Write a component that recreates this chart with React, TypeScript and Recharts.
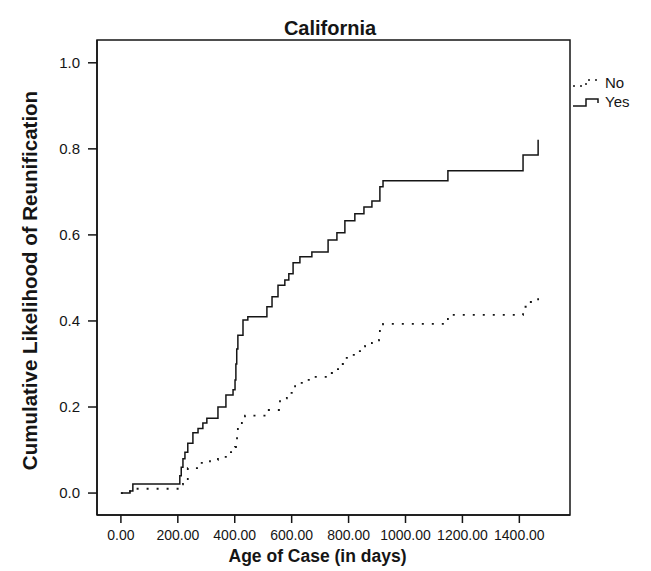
import { LineChart, Line, XAxis, YAxis, Label, ReferenceArea } from 'recharts'

// Cumulative likelihood of reunification, California
const yesDays = [0, 32, 42, 207, 212, 218, 225, 235, 253, 271, 288, 302, 341, 369, 394, 401, 404, 407, 411, 429, 446, 513, 531, 552, 576, 590, 605, 629, 671, 728, 759, 787, 822, 854, 882, 910, 921, 1149, 1413, 1466]
const yesValues = [0, 0.005, 0.021, 0.04, 0.06, 0.08, 0.095, 0.116, 0.14, 0.15, 0.163, 0.174, 0.2, 0.228, 0.24, 0.263, 0.3, 0.335, 0.367, 0.402, 0.41, 0.433, 0.456, 0.483, 0.495, 0.51, 0.535, 0.549, 0.56, 0.588, 0.605, 0.633, 0.649, 0.665, 0.679, 0.712, 0.726, 0.749, 0.786, 0.821]

const noDays = [0, 32, 207, 218, 235, 278, 313, 341, 373, 401, 408, 411, 425, 436, 513, 559, 583, 612, 640, 671, 724, 745, 770, 787, 812, 833, 858, 882, 907, 910, 921, 1149, 1413, 1431, 1466]
const noValues = [0, 0.01, 0.02, 0.03, 0.058, 0.07, 0.077, 0.084, 0.095, 0.107, 0.13, 0.153, 0.17, 0.18, 0.193, 0.22, 0.233, 0.256, 0.263, 0.27, 0.279, 0.288, 0.3, 0.314, 0.321, 0.33, 0.342, 0.349, 0.356, 0.379, 0.393, 0.414, 0.433, 0.444, 0.467]

const xTicks = [0, 200, 400, 600, 800, 1000, 1200, 1400]
const yTicks = [0, 0.2, 0.4, 0.6, 0.8, 1.0]
const xDomain = [-84, 1578]
const yDomain = [-0.051, 1.053]

const yesData = yesDays.map((day, i) => ({ day, value: yesValues[i] }))
const noData = noDays.map((day, i) => ({ day, value: noValues[i] }))

const font = 'Arial, "Liberation Sans", sans-serif'
const ink = '#151515'

export default function App() {
  return (
    <div style={{ position: 'absolute', left: 0, top: 0, width: 651, height: 571, background: '#fff', fontFamily: font }}>
      <div style={{ position: 'absolute', left: 0, width: 660, top: 16, textAlign: 'center', fontWeight: 'bold', fontSize: 20, lineHeight: '24px', color: ink }}>
        California
      </div>
      <LineChart width={651} height={571} data={yesData} margin={{ top: 40, right: 81, bottom: 6, left: 0 }}>
        <XAxis
          dataKey="day"
          type="number"
          domain={xDomain}
          ticks={xTicks}
          allowDataOverflow
          height={50}
          tickFormatter={(v: number) => v.toFixed(2)}
          tick={{ fontSize: 14, fill: ink, fontFamily: font }}
          tickSize={8}
          tickMargin={7}
          stroke={ink}
          strokeWidth={1.5}
        >
          <Label
            content={({ viewBox }: any) => (
              <text x={viewBox.x + viewBox.width / 2 - 16} y={viewBox.y + 47} textAnchor="middle" fontWeight="bold" fontSize={17.5} fill={ink} fontFamily={font}>
                Age of Case (in days)
              </text>
            )}
          />
        </XAxis>
        <YAxis
          type="number"
          domain={yDomain}
          ticks={yTicks}
          allowDataOverflow
          width={97}
          tickFormatter={(v: number) => v.toFixed(1)}
          tick={{ fontSize: 15, fill: ink, fontFamily: font }}
          tickSize={9}
          tickMargin={8}
          stroke={ink}
          strokeWidth={1.5}
        >
          <Label
            content={({ viewBox }: any) => {
              const cx = viewBox.x + 29
              const cy = viewBox.y + viewBox.height / 2 + 3
              return (
                <text x={cx} y={cy} transform={`rotate(-90 ${cx} ${cy})`} textAnchor="middle" dominantBaseline="central" fontWeight="bold" fontSize={20.5} fill={ink} fontFamily={font}>
                  Cumulative Likelihood of Reunification
                </text>
              )
            }}
          />
        </YAxis>
        <ReferenceArea x1={xDomain[0]} x2={xDomain[1]} y1={yDomain[0]} y2={yDomain[1]} fill="none" stroke={ink} strokeWidth={1.5} ifOverflow="visible" />
        <Line data={noData} dataKey="value" type="stepAfter" stroke={ink} strokeWidth={1.8} strokeDasharray="2 8" dot={false} isAnimationActive={false} />
        <Line data={yesData} dataKey="value" type="stepAfter" stroke={ink} strokeWidth={1.5} dot={false} isAnimationActive={false} />
      </LineChart>
      <div style={{ position: 'absolute', left: 573, top: 73, fontSize: 15, color: ink, lineHeight: '19px' }}>
        <div style={{ display: 'flex', alignItems: 'center' }}>
          <svg width={28} height={14}>
            <path d="M0,10 H13 V4 H27" fill="none" stroke={ink} strokeWidth={1.5} strokeDasharray="2 5" />
          </svg>
          <span style={{ marginLeft: 4 }}>No</span>
        </div>
        <div style={{ display: 'flex', alignItems: 'center' }}>
          <svg width={28} height={14}>
            <path d="M0,11 H13 V4 H25 V8" fill="none" stroke={ink} strokeWidth={1.5} />
          </svg>
          <span style={{ marginLeft: 4 }}>Yes</span>
        </div>
      </div>
    </div>
  )
}
